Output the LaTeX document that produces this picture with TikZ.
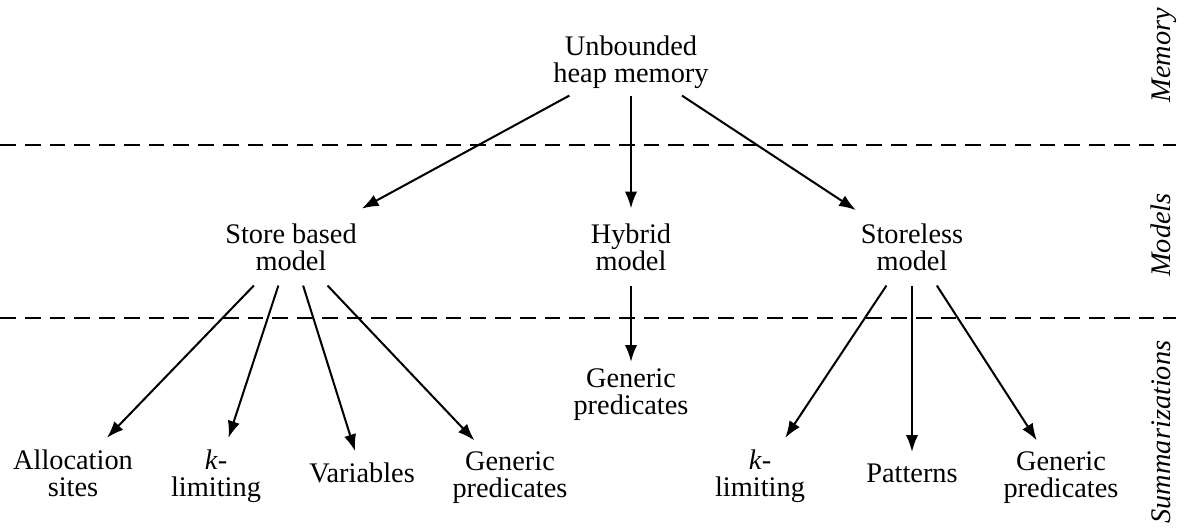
\documentclass[tikz,border=0pt]{standalone}
\usepackage{fontspec}
\setmainfont{Liberation Serif}
\usetikzlibrary{arrows.meta,positioning}

\begin{document}
\begin{tikzpicture}[
    x=0.4444pt, y=-0.4444pt,
    box/.style={align=center, inner xsep=2pt, inner ysep=5pt, font=\fontsize{12.6}{12}\selectfont},
    arrow/.style={-{Latex[length=7.5pt, width=5.5pt]}, line width=0.9pt},
    divider/.style={dash pattern=on 7pt off 4pt, line width=0.9pt},
    layer/.style={rotate=90, anchor=base, font=\fontsize{12.6}{12}\selectfont\itshape}
]
\useasboundingbox (0,0) rectangle (1187,530);

% Layer separators
\draw[divider] (0,145) -- (1176,145);
\draw[divider] (0,318) -- (1176,318);

% Layer names
\node[layer] (lmem) at (1170,55) {Memory};
\node[layer] (lmod) at (1170,235) {Models};
\node[layer] (lsum) at (1170,432) {Summarizations};

% Memory
\node[box, inner ysep=3pt] (mem) at (631,62) {Unbounded\\heap memory};

% Models
\node[box, inner ysep=6.5pt] (store) at (291,247) {Store based\\model};
\node[box, inner ysep=6.5pt] (hybrid) at (631,247) {Hybrid\\model};
\node[box, inner ysep=6.5pt] (storeless) at (912,247) {Storeless\\model};

% Summarizations
\node[box, inner ysep=3pt] (hgen) at (631,395) {Generic\\predicates};
\node[box] (alloc) at (73,473) {Allocation\\sites};
\node[box] (klim) at (216,476) {\textit{k}-\\limiting};
\node[box] (vars) at (362,473) {Variables};
\node[box] (sgen) at (510,478) {Generic\\predicates};
\node[box] (klimb) at (760,476) {\textit{k}-\\limiting};
\node[box] (pat) at (912,473) {Patterns};
\node[box] (lgen) at (1061,478) {Generic\\predicates};

% Arrows
\draw[arrow] (mem) -- (store);
\draw[arrow] (mem) -- (hybrid);
\draw[arrow] (mem) -- (storeless);
\draw[arrow] (hybrid) -- (hgen);
\foreach \t in {alloc,klim,vars,sgen}
    \draw[arrow] (store) -- (\t);
\foreach \t in {klimb,pat,lgen}
    \draw[arrow] (storeless) -- (\t);

\end{tikzpicture}
\end{document}
